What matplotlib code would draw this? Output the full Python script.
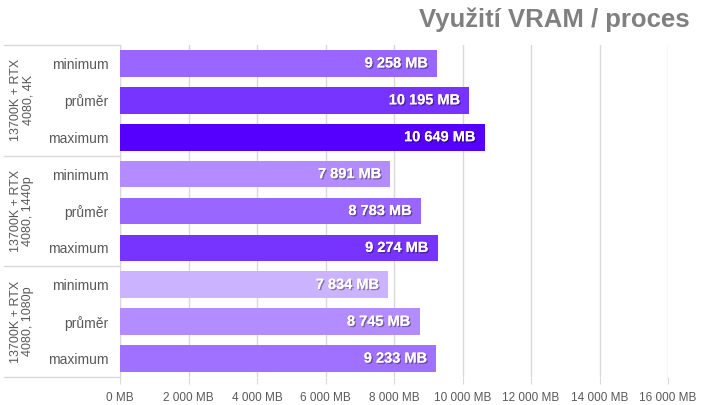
import matplotlib
matplotlib.use("Agg")
import matplotlib.pyplot as plt
import matplotlib.patheffects as pe
from matplotlib.transforms import blended_transform_factory

plt.rcParams['font.family'] = ['Liberation Sans', 'DejaVu Sans']

# data
groups = ["13700K + RTX\n4080, 4K", "13700K + RTX\n4080, 1440p", "13700K + RTX\n4080, 1080p"]
stats = ["minimum", "průměr", "maximum"]
vram_4k = [9258, 10195, 10649]
vram_1440 = [7891, 8783, 9274]
vram_1080 = [7834, 8745, 9233]
colors_4k = ["#9966ff", "#7733ff", "#5500ff"]
colors_1440 = ["#b38cff", "#9966ff", "#7733ff"]
colors_1080 = ["#ccb3ff", "#b38cff", "#a070ff"]
xticks = [0, 2000, 4000, 6000, 8000, 10000, 12000, 14000, 16000]


def fmt(v):
    return f"{v:,}".replace(",", " ") + " MB"


values = vram_4k + vram_1440 + vram_1080
colors = colors_4k + colors_1440 + colors_1080
labels = stats * 3
ypos = list(range(len(values)))

fig = plt.figure(figsize=(7.2, 4.05), dpi=100)
ax = fig.add_axes([120 / 720, 1 - 377 / 405, (668 - 120) / 720, 332 / 405])

ax.barh(ypos, values, height=0.72, color=colors, zorder=3)
ax.set_ylim(8.5, -0.5)
ax.set_xlim(0, 16000)

for y, v in zip(ypos, values):
    t = ax.text(v - 260, y, fmt(v), ha="right", va="center", color="white",
                fontsize=10.5, fontweight="bold", zorder=4)
    t.set_path_effects([pe.withSimplePatchShadow(offset=(1, -1), shadow_rgbFace="black", alpha=0.35),
                        pe.Normal()])

ax.set_xticks(xticks)
ax.set_xticklabels([fmt(x) for x in xticks], fontsize=8.5, color="#595959")
ax.grid(axis="x", color="#d9d9d9", linewidth=1, zorder=0)
ax.tick_params(axis="x", length=5, color="#d9d9d9", pad=6)

ax.set_yticks(ypos)
ax.set_yticklabels(labels, fontsize=10, color="#595959")
ax.tick_params(axis="y", length=0, pad=8)

for s in ["top", "right", "bottom"]:
    ax.spines[s].set_visible(False)
ax.spines["left"].set_color("#d9d9d9")

# group separators and group labels
tr = blended_transform_factory(fig.transFigure, ax.transData)
for b in [-0.5, 2.5, 5.5, 8.5]:
    ax.plot([4 / 720, 120 / 720], [b, b], color="#d9d9d9", linewidth=1,
            transform=tr, clip_on=False)
for i, g in enumerate(groups):
    ax.text(22 / 720, i * 3 + 1, g, transform=tr, rotation=90, ha="center", va="center",
            fontsize=9, color="#595959", linespacing=1.1, multialignment="center")

fig.text(690 / 720, 1 - 20 / 405, "Využití VRAM / proces", ha="right", va="center",
         fontsize=18.5, fontweight="bold", color="#808080")

fig.savefig("out.png", dpi=100)
